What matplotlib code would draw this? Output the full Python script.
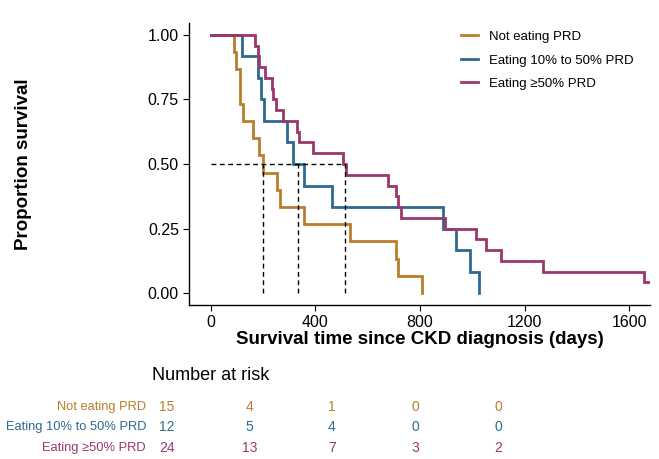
import numpy as np
import matplotlib
matplotlib.use("Agg")
import matplotlib.pyplot as plt

plt.rcParams['font.family'] = ['Liberation Sans', 'DejaVu Sans']

# ---- data ----
groups = ["Not eating PRD", "Eating 10% to 50% PRD", "Eating \u226550% PRD"]
colors = ["#B97D2D", "#2D6991", "#9B376E"]

times_not = [89, 96, 112, 112, 125, 160, 183, 199, 253, 263, 355, 534, 709, 716, 809]
event_not = [1] * 15
times_mid = [119, 179, 192, 204, 291, 313, 358, 464, 886, 937, 990, 1026]
event_mid = [1] * 12
times_high = [170, 179, 186, 208, 233, 240, 250, 278, 329, 339, 390, 507, 517,
              677, 707, 716, 729, 895, 1013, 1052, 1110, 1269, 1656, 1700]
event_high = [1] * 23 + [0]

data = [(times_not, event_not), (times_mid, event_mid), (times_high, event_high)]
risk_times = [0, 400, 800, 1200, 1600]
xticks = [0, 400, 800, 1200, 1600]
yticks = [0.0, 0.25, 0.5, 0.75, 1.0]
ytick_labels = ["0.00", "0.25", "0.50", "0.75", "1.00"]


def km(times, events):
    t = np.array(times, float)
    e = np.array(events, int)
    ut = np.unique(t)
    xs, ss = [0.0], [1.0]
    s = 1.0
    for u in ut:
        at_risk = np.sum(t >= u)
        d = np.sum((t == u) & (e == 1))
        if d > 0:
            s *= (1 - d / at_risk)
        xs.append(u)
        ss.append(s)
    return np.array(xs), np.array(ss)


def median_surv(xs, ss):
    for i in range(len(ss)):
        if abs(ss[i] - 0.5) < 1e-9:
            for j in range(i + 1, len(ss)):
                if ss[j] < ss[i] - 1e-9:
                    return 0.5 * (xs[i] + xs[j])
            return xs[i]
        if ss[i] < 0.5:
            return xs[i]
    return None


W, H = 659, 459
fig = plt.figure(figsize=(W / 100, H / 100), dpi=100)
L, R, T, B = 189.3, 650, 23, 305
ax = fig.add_axes([L / W, 1 - B / H, (R - L) / W, (B - T) / H])

medians = []
for (tm, ev), c, g in zip(data, colors, groups):
    xs, ss = km(tm, ev)
    ax.step(xs, ss, where='post', color=c, lw=2.0, label=g, solid_joinstyle='miter')
    medians.append(median_surv(xs, ss))

mx = max(medians)
ax.plot([0, mx], [0.5, 0.5], ls=(0, (3.5, 2.5)), color='black', lw=1.0)
for m in medians:
    ax.plot([m, m], [0, 0.5], ls=(0, (3.5, 2.5)), color='black', lw=1.0)

ax.set_xlim(-81.8, 1679)
ax.set_ylim(-0.0465, 1.0465)
ax.set_xticks(xticks)
ax.set_yticks(yticks)
ax.set_yticklabels(ytick_labels)
ax.tick_params(labelsize=11.5, length=4, width=0.8, direction='out', colors='black')
for sp in ['top', 'right']:
    ax.spines[sp].set_visible(False)
for sp in ['left', 'bottom']:
    ax.spines[sp].set_linewidth(1.0)

fig.text(24 / W, 1 - 164 / H, "Proportion survival", rotation=90, ha='center', va='center',
         fontsize=13.5, fontweight='bold')
fig.text(420 / W, 1 - 340 / H, "Survival time since CKD diagnosis (days)", ha='center', va='center',
         fontsize=13.5, fontweight='bold')

leg = ax.legend(loc='upper left', bbox_to_anchor=(449 / W, 1 - 19 / H), bbox_transform=fig.transFigure,
                frameon=False, fontsize=9.5, handlelength=1.3, handletextpad=0.8, labelspacing=0.85)

# number at risk table
fig.text(152 / W, 1 - 375 / H, "Number at risk", ha='left', va='center', fontsize=13)
row_y = [406.7, 427.3, 448.3]
col_x = [166.7, 249.3, 331.7, 415, 498.3]
for (tm, ev), c, g, yy in zip(data, colors, groups, row_y):
    fig.text(146 / W, 1 - yy / H, g, ha='right', va='center', fontsize=9.3, color=c)
    t = np.array(tm)
    for rt, xx in zip(risk_times, col_x):
        fig.text(xx / W, 1 - yy / H, str(int(np.sum(t >= rt))), ha='center', va='center',
                 fontsize=10, color=c)

fig.savefig("out.png", dpi=100)
